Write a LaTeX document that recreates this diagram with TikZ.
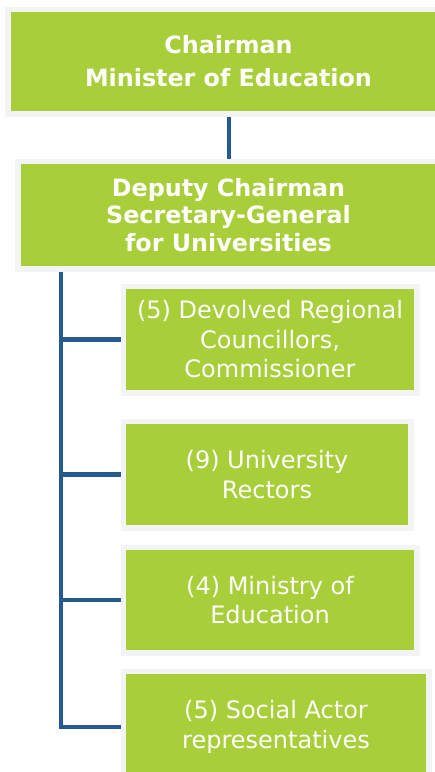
\documentclass[tikz,border=0pt]{standalone}
\usepackage{fontspec}
\setmainfont{DejaVu Sans}
\definecolor{boxgreen}{RGB}{168,206,58}
\definecolor{framegray}{RGB}{243,245,245}
\definecolor{linkblue}{RGB}{36,90,142}
\begin{document}
\begin{tikzpicture}[x=1pt,y=-1pt,
  gbox/.style={rectangle, fill=boxgreen, draw=framegray, line width=5.5pt,
    text=white, align=center, inner sep=0pt},
  conn/.style={draw=linkblue, line width=4.5pt}]
\useasboundingbox (0,0) rectangle (435,772);
\clip (0,0) rectangle (435,772);
\node[gbox, minimum width=441.5pt, minimum height=104.5pt,
  font=\fontsize{23.8}{33}\selectfont\bfseries] (b1) at (228.5,61.5)
  {Chairman\\Minister of Education};
\node[gbox, minimum width=421.5pt, minimum height=107.5pt,
  font=\fontsize{23.8}{27.5}\selectfont\bfseries] (b2) at (228.5,215)
  {Deputy Chairman\\Secretary-General\\for Universities};
\node[gbox, minimum width=293.5pt, minimum height=106.5pt,
  font=\fontsize{24}{29.5}\selectfont] (b3) at (270,339.5)
  {(5) Devolved Regional\\Councillors,\\Commissioner};
\node[gbox, minimum width=287.5pt, minimum height=106.5pt,
  font=\fontsize{24}{29.5}\selectfont] (b4) at (267,474.5)
  {(9) University\\Rectors};
\node[gbox, minimum width=293.5pt, minimum height=105.5pt,
  font=\fontsize{24}{29.5}\selectfont] (b5) at (270,600)
  {(4) Ministry of\\Education};
\node[gbox, minimum width=305.5pt, minimum height=111.5pt,
  font=\fontsize{24}{29.5}\selectfont] (b6) at (276,727)
  {(5) Social Actor\\representatives};
\coordinate (t) at (61,0);
\draw[conn, line width=4pt] (b1.south) -- (b2.north);
\draw[conn] (t |- b2.south) |- (b6.west);
\draw[conn] (t |- b3.west) -- (b3.west);
\draw[conn] (t |- b4.west) -- (b4.west);
\draw[conn] (t |- b5.west) -- (b5.west);
\end{tikzpicture}
\end{document}
